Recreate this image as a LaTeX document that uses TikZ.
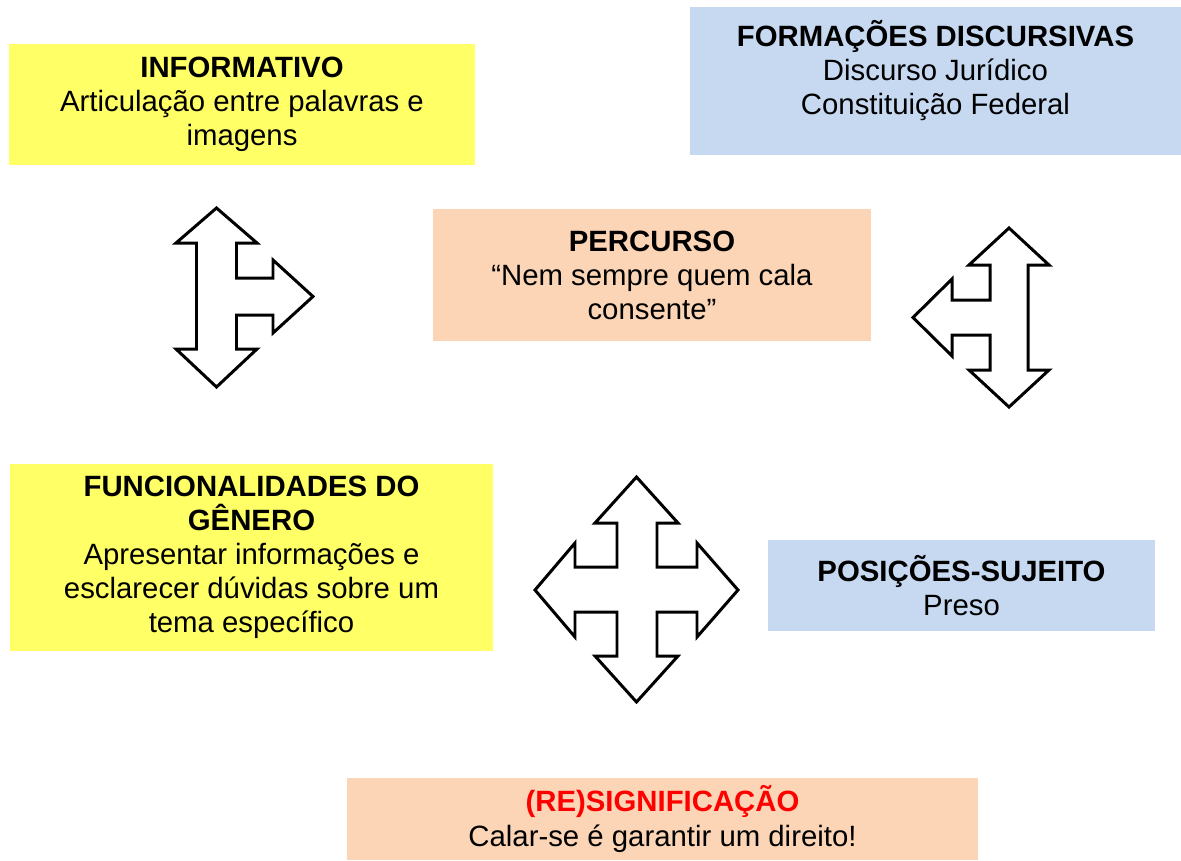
\documentclass[tikz,border=0pt]{standalone}
\usepackage{fontspec}
\setmainfont{Liberation Sans}
\usepackage{tikz}
\definecolor{amarelo}{RGB}{255,255,102}
\definecolor{azul}{RGB}{198,217,241}
\definecolor{laranja}{RGB}{251,213,181}
\definecolor{vermelho}{RGB}{255,0,0}

\begin{document}
\begin{tikzpicture}[x=0.02cm,y=-0.02cm,
    caixa/.style={inner sep=0pt,align=center,font=\fontsize{16.7}{19.4}\selectfont},
    seta/.style={draw=black,fill=white,line width=1.7pt,line join=miter}]
  \useasboundingbox (0,0) rectangle (1181,860);

  \node[caixa,fill=amarelo,minimum width=9.32cm,minimum height=2.42cm] (info) at (242,104.5)
       {\textbf{INFORMATIVO}\\Articulação entre palavras e\\imagens};
  \node[caixa,fill=azul,minimum width=9.82cm,minimum height=2.96cm] (forma) at (935.5,81) {};
  \node[caixa,anchor=north] (formatxt) at ([yshift=-0.27cm]forma.north)
       {\textbf{FORMAÇÕES DISCURSIVAS}\\Discurso Jurídico\\Constituição Federal};
  \node[caixa,fill=laranja,minimum width=8.76cm,minimum height=2.64cm] (percurso) at (652,275)
       {\textbf{PERCURSO}\\“Nem sempre quem cala\\consente”};
  \node[caixa,fill=amarelo,minimum width=9.66cm,minimum height=3.74cm] (func) at (251.5,557.5)
       {\textbf{FUNCIONALIDADES DO}\\\textbf{GÊNERO}\\Apresentar informações e\\esclarecer dúvidas sobre um\\tema específico};
  \node[caixa,fill=azul,minimum width=7.74cm,minimum height=1.82cm] (posicoes) at (961.5,585.5)
       {\textbf{POSIÇÕES-SUJEITO}\\Preso};
  \node[caixa,fill=laranja,minimum width=12.62cm,minimum height=1.64cm] (resig) at (662.5,819)
       {\textcolor{vermelho}{\textbf{(RE)SIGNIFICAÇÃO}}\\Calar-se é garantir um direito!};

  % seta para cima, baixo e direita
  \draw[seta] (216.5,208) -- (257,243) -- (236.5,243) -- (236.5,278) -- (273,278) -- (273,260)
    -- (313,296.5) -- (273,333) -- (273,315) -- (236.5,315) -- (236.5,349) -- (257,349)
    -- (216.5,387) -- (176,349) -- (196.5,349) -- (196.5,243) -- (176,243) -- cycle;
  % seta para cima, baixo e esquerda
  \draw[seta] (1009,228) -- (1049,265) -- (1028,265) -- (1028,370) -- (1049,370) -- (1009,407)
    -- (969,370) -- (990,370) -- (990,335) -- (952,335) -- (952,356) -- (913,317.5)
    -- (952,279) -- (952,300) -- (990,300) -- (990,265) -- (969,265) -- cycle;
  % seta em quatro sentidos
  \draw[seta] (636.5,477) -- (678,523) -- (657,523) -- (657,567) -- (697,567) -- (697,543)
    -- (738,590) -- (697,637) -- (697,612) -- (657,612) -- (657,656) -- (678,656)
    -- (636.5,702) -- (595,656) -- (617,656) -- (617,612) -- (575,612) -- (575,637)
    -- (535,590) -- (575,543) -- (575,567) -- (617,567) -- (617,523) -- (595,523) -- cycle;
\end{tikzpicture}
\end{document}
